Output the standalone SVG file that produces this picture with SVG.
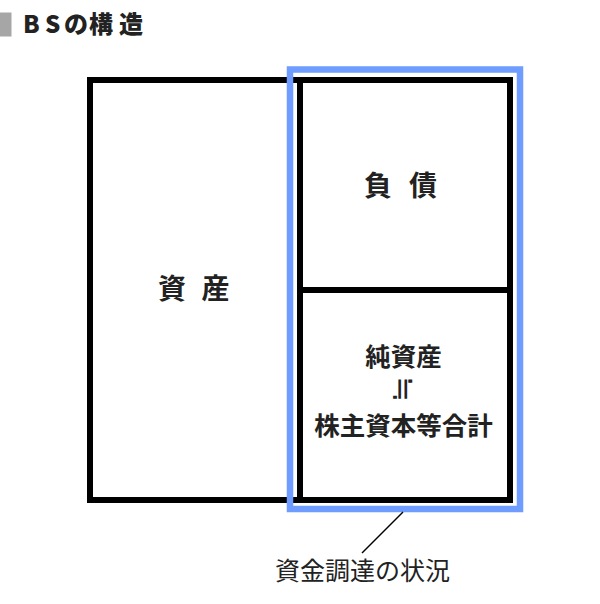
<svg xmlns="http://www.w3.org/2000/svg" width="600" height="604" viewBox="0 0 600 604">
<style>
.t{font-family:"Noto Sans CJK JP","Noto Sans",sans-serif;fill:#222;}
.b{font-weight:bold;}
.box{fill:none;stroke:#000;stroke-width:6;}
.blue{fill:none;stroke:#6e9cff;stroke-width:6.5;}
</style>
<rect width="600" height="604" fill="#fff"/>
<g id="title">
<rect x="0" y="12.5" width="11.5" height="24" fill="#a6a6a6"/>
<text class="t" font-weight="900" x="23 45 64 89 119" y="33" font-size="24">BSの構造</text>
</g>
<g id="node-assets">
<rect class="box" x="90" y="80" width="210" height="420"/>
<text class="t b" x="158 201.5" y="299" font-size="28">資産</text>
</g>
<g id="node-liabilities">
<rect class="box" x="300" y="80" width="210" height="210"/>
<text class="t b" x="364 409" y="196" font-size="28">負債</text>
</g>
<g id="node-equity">
<rect class="box" x="300" y="290" width="210" height="210"/>
<text class="t b" x="403.5" y="366" font-size="25.5" text-anchor="middle">純資産</text>
<text transform="translate(403.5,389.5) rotate(90)" x="0" y="10.5" font-family="DejaVu Sans, sans-serif" fill="#222" font-size="31" text-anchor="middle">≒</text>
<text class="t b" x="403.5" y="434.5" font-size="25.5" text-anchor="middle">株主資本等合計</text>
</g>
<g id="node-funding">
<rect class="blue" x="290" y="69.5" width="230" height="439.5"/>
<text class="t" x="275" y="580" font-size="25">資金調達の状況</text>
</g>
<g id="connectors">
<line x1="403" y1="512" x2="362" y2="553" stroke="#000" stroke-width="1.5"/>
</g>
</svg>
